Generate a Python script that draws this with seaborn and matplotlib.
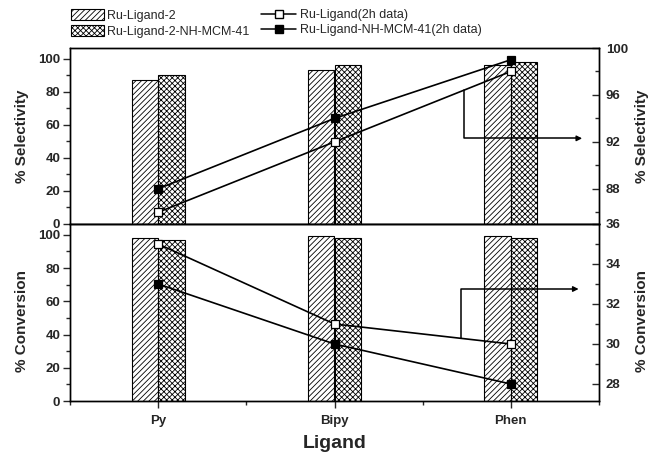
import numpy as np
import pandas as pd
import matplotlib
matplotlib.use("Agg")
import matplotlib.pyplot as plt
from matplotlib.patches import Patch
from matplotlib.lines import Line2D
from matplotlib.ticker import FixedLocator
import seaborn as sns

# ---- data -------------------------------------------------------------
ligands = ["Py", "Bipy", "Phen"]
catalysts = ["Ru-Ligand-2", "Ru-Ligand-2-NH-MCM-41"]

# bar values (left axes)
sel_free = [87, 93, 96]
sel_grafted = [90, 96, 98]
conv_free = [98, 99, 99]
conv_grafted = [97, 98, 98]

# 2h data (right axes)
sel_2h_free = [86, 92, 98]
sel_2h_grafted = [88, 94, 99]
conv_2h_free = [35, 31, 30]
conv_2h_grafted = [33, 30, 28]

line_labels = ["Ru-Ligand(2h data)", "Ru-Ligand-NH-MCM-41(2h data)"]

# ---- style ------------------------------------------------------------
sns.set_style("ticks")
plt.rcParams["font.family"] = ["Liberation Sans", "DejaVu Sans"]
plt.rcParams["hatch.linewidth"] = 0.6
plt.rcParams["axes.linewidth"] = 1.0

fig = plt.figure(figsize=(6.52, 4.55), dpi=100)
L, R = 70 / 652, 599 / 652
y_top, y_mid, y_bot = 48 / 455, 224 / 455, 401 / 455
ax_top = fig.add_axes([L, 1 - y_mid, R - L, y_mid - y_top])
ax_bot = fig.add_axes([L, 1 - y_bot, R - L, y_bot - y_mid])

hatches = ["//////", "xxxxxx"]


def draw_bars(ax, free, grafted):
    df = pd.DataFrame({
        "Ligand": ligands * 2,
        "Catalyst": [c for c in catalysts for _ in ligands],
        "value": list(free) + list(grafted),
    })
    sns.barplot(data=df, x="Ligand", y="value", hue="Catalyst",
                order=ligands, hue_order=catalysts, width=0.3,
                palette=["white", "white"], saturation=1,
                edgecolor="black", linewidth=0.8, legend=False, ax=ax)
    for cont, h in zip(ax.containers, hatches):
        for bar in cont:
            bar.set_hatch(h)


def draw_lines(ax, free, grafted):
    xs = np.arange(len(ligands))
    sns.lineplot(x=xs, y=free, ax=ax, color="black", linewidth=1.2,
                 marker="s", markersize=5.5, markerfacecolor="white",
                 markeredgecolor="black", markeredgewidth=0.9)
    sns.lineplot(x=xs, y=grafted, ax=ax, color="black", linewidth=1.2,
                 marker="s", markersize=5.5, markerfacecolor="black",
                 markeredgecolor="black", markeredgewidth=0.9)


def pointer(ax, series, x0, y_level, x1):
    xs = np.arange(len(ligands))
    y_start = np.interp(x0, xs, series)
    ax.plot([x0, x0, x1 - 0.05], [y_start, y_level, y_level],
            color="black", linewidth=1.1)
    ax.annotate("", xy=(x1, y_level), xytext=(x1 - 0.06, y_level),
                arrowprops=dict(arrowstyle="-|>", color="black", lw=1.0,
                                mutation_scale=8))


tick_size = 9.5
label_font = dict(fontsize=11, fontweight="bold")

# ---- top panel: selectivity ------------------------------------------
draw_bars(ax_top, sel_free, sel_grafted)
ax_top.set_ylim(0, 106.5)
ax_top.set_xlim(-0.5, 2.5)
ax_top.yaxis.set_major_locator(FixedLocator([0, 20, 40, 60, 80, 100]))
ax_top.yaxis.set_minor_locator(FixedLocator([10, 30, 50, 70, 90]))
ax_top.tick_params(axis="y", which="major", direction="out", length=5, width=1, pad=2)
ax_top.tick_params(axis="y", which="minor", direction="out", length=3, width=1)
ax_top.tick_params(axis="x", bottom=False, labelbottom=False)
ax_top.set_xlabel("")
ax_top.set_ylabel("% Selectivity", **label_font)
ax_top.yaxis.set_label_coords(-0.078, 0.5)

tw_top = ax_top.twinx()
draw_lines(tw_top, sel_2h_free, sel_2h_grafted)
tw_top.set_ylim(85, 100)
tw_top.set_xlim(-0.5, 2.5)
tw_top.yaxis.set_major_locator(FixedLocator([88, 92, 96, 100]))
tw_top.yaxis.set_minor_locator(FixedLocator([86, 90, 94, 98]))
tw_top.tick_params(axis="y", which="major", direction="in", length=5, width=1, pad=5)
tw_top.tick_params(axis="y", which="minor", direction="in", length=3, width=1)
tw_top.set_ylabel("% Selectivity", rotation=90, **label_font)
tw_top.yaxis.set_label_coords(1.068, 0.5)
pointer(tw_top, sel_2h_free, 1.734, 92.3, 2.42)

# ---- bottom panel: conversion ----------------------------------------
draw_bars(ax_bot, conv_free, conv_grafted)
ax_bot.set_ylim(0, 106.5)
ax_bot.set_xlim(-0.5, 2.5)
ax_bot.yaxis.set_major_locator(FixedLocator([0, 20, 40, 60, 80, 100]))
ax_bot.yaxis.set_minor_locator(FixedLocator([10, 30, 50, 70, 90]))
ax_bot.tick_params(axis="y", which="major", direction="out", length=5, width=1, pad=2)
ax_bot.tick_params(axis="y", which="minor", direction="out", length=3, width=1)
ax_bot.xaxis.set_minor_locator(FixedLocator([-0.5, 0.5, 1.5, 2.5]))
ax_bot.tick_params(axis="x", which="major", direction="out", length=5, width=1, pad=5)
ax_bot.tick_params(axis="x", which="minor", direction="out", length=3, width=1)
ax_bot.set_ylabel("% Conversion", **label_font)
ax_bot.yaxis.set_label_coords(-0.078, 0.45)
ax_bot.set_xlabel("Ligand", fontsize=14, fontweight="bold", labelpad=6)

tw_bot = ax_bot.twinx()
draw_lines(tw_bot, conv_2h_free, conv_2h_grafted)
tw_bot.set_ylim(27.15, 36)
tw_bot.set_xlim(-0.5, 2.5)
tw_bot.yaxis.set_major_locator(FixedLocator([28, 30, 32, 34, 36]))
tw_bot.yaxis.set_minor_locator(FixedLocator([29, 31, 33, 35]))
tw_bot.tick_params(axis="y", which="major", direction="in", length=5, width=1, pad=5)
tw_bot.tick_params(axis="y", which="minor", direction="in", length=3, width=1)
tw_bot.set_ylabel("% Conversion", rotation=90, **label_font)
tw_bot.yaxis.set_label_coords(1.068, 0.45)
pointer(tw_bot, conv_2h_free, 1.717, 32.75, 2.40)

for ax in (ax_top, ax_bot, tw_top, tw_bot):
    for lab in ax.get_xticklabels() + ax.get_yticklabels():
        lab.set_fontsize(tick_size)
        lab.set_fontweight("bold")
    for sp in ax.spines.values():
        sp.set_visible(True)
        sp.set_linewidth(1.0)
        sp.set_color("black")

# ---- legends ---------------------------------------------------------
bar_handles = [Patch(facecolor="white", edgecolor="black", hatch=h, linewidth=0.8)
               for h in hatches]
fig.legend(bar_handles, catalysts, loc="upper left",
           bbox_to_anchor=(66 / 652, 1 - 4 / 455), frameon=False,
           fontsize=9, handlelength=2.6, handleheight=1.0,
           handletextpad=0.3, labelspacing=0.25, borderaxespad=0)

line_handles = [
    Line2D([], [], color="black", lw=1.1, marker="s", markersize=5.5,
           markerfacecolor="white", markeredgecolor="black"),
    Line2D([], [], color="black", lw=1.1, marker="s", markersize=5.5,
           markerfacecolor="black", markeredgecolor="black"),
]
fig.legend(line_handles, line_labels, loc="upper left",
           bbox_to_anchor=(256 / 652, 1 - 4 / 455), frameon=False,
           fontsize=9, handlelength=2.8, handletextpad=0.3,
           labelspacing=0.25, borderaxespad=0)

fig.savefig("out.png", dpi=100)
